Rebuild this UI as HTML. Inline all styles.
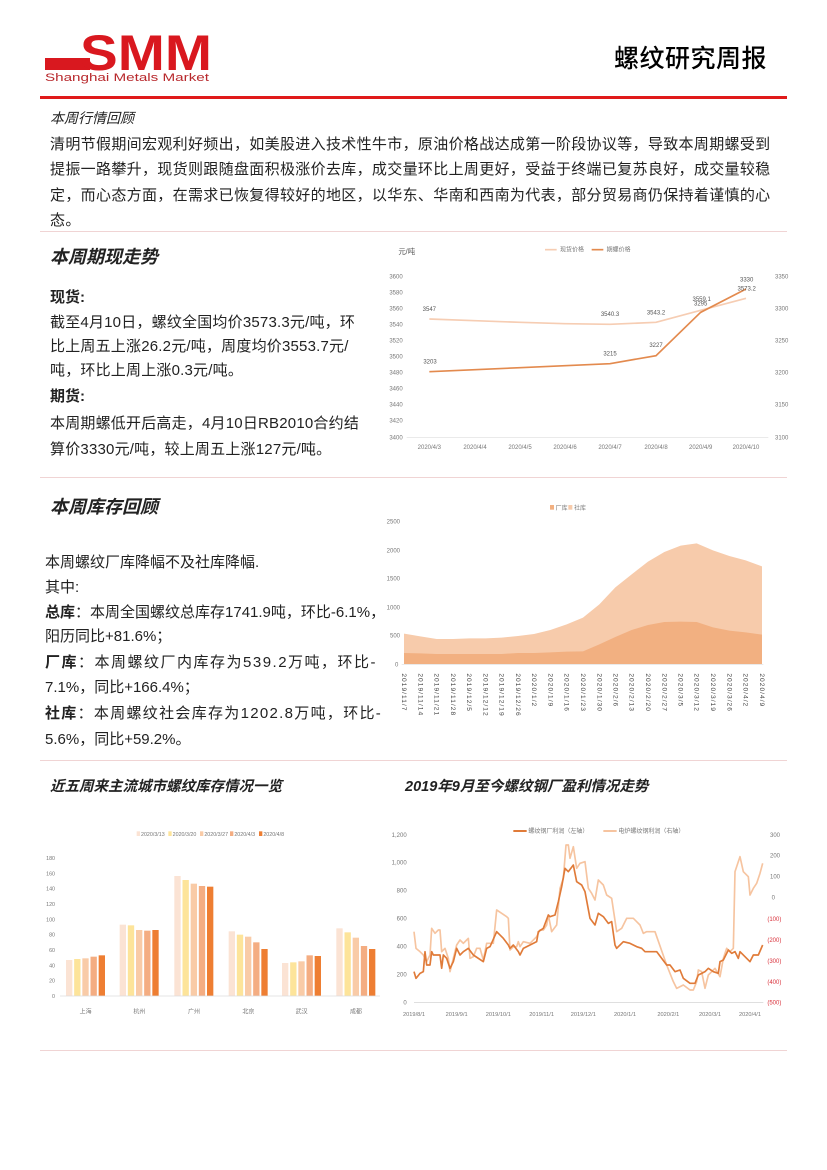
<!DOCTYPE html>
<html><head><meta charset="utf-8">
<style>
body{margin:0;background:#fff;}
#pg{position:relative;width:827px;height:1170px;overflow:hidden;background:#fff;font-family:"Liberation Sans","Noto Sans CJK SC",sans-serif;color:#222;}
.t{position:absolute;white-space:nowrap;font-size:15px;line-height:20px;}
.p{letter-spacing:0.33px;}
.h{font-style:italic;font-weight:bold;font-size:18px;}
.sep{position:absolute;left:40px;width:747px;height:1px;background:#f0d4d4;}
svg{position:absolute;}
svg text{font-family:"Liberation Sans","Noto Sans CJK SC",sans-serif;}
</style></head><body><div id="pg">

<svg style="left:40px;top:25px" width="180" height="65" viewBox="0 0 180 65">
<rect x="5" y="33" width="45" height="12" fill="#d9181f"/>
<text x="40" y="45" font-size="50" font-weight="bold" fill="#d9181f" textLength="132" lengthAdjust="spacingAndGlyphs">SMM</text>
<text x="5" y="56" font-size="11" fill="#b8282c" textLength="164" lengthAdjust="spacingAndGlyphs">Shanghai Metals Market</text>
</svg>
<div class="t" style="left:614px;top:42px;font-size:25px;line-height:34px;color:#000;letter-spacing:0.5px;font-family:'Liberation Sans','Noto Sans CJK SC',sans-serif;font-weight:500;">螺纹研究周报</div>
<div style="position:absolute;left:40px;top:96px;width:747px;height:3px;background:#e01a1a;"></div>

<div class="t" style="left:50px;top:108px;font-size:14px;font-style:italic;">本周行情回顾</div>
<div class="t p" style="left:50px;top:135px;">清明节假期间宏观利好频出，如美股进入技术性牛市，原油价格战达成第一阶段协议等，导致本周期螺受到</div>
<div class="t p" style="left:50px;top:160px;">提振一路攀升，现货则跟随盘面积极涨价去库，成交量环比上周更好，受益于终端已复苏良好，成交量较稳</div>
<div class="t p" style="left:50px;top:186px;">定，而心态方面，在需求已恢复得较好的地区，以华东、华南和西南为代表，部分贸易商仍保持着谨慎的心</div>
<div class="t p" style="left:50px;top:211px;">态。</div>
<div class="sep" style="top:231px"></div>

<div class="t h" style="left:50px;top:247px;">本周期现走势</div>
<div class="t" style="left:50px;top:288px;font-weight:bold;">现货:</div>
<div class="t p" style="left:50px;top:313px;letter-spacing:0.2px;">截至4月10日，螺纹全国均价3573.3元/吨，环</div>
<div class="t p" style="left:50px;top:337px;letter-spacing:0.2px;">比上周五上涨26.2元/吨，周度均价3553.7元/</div>
<div class="t p" style="left:50px;top:361px;letter-spacing:0.2px;">吨，环比上周上涨0.3元/吨。</div>
<div class="t" style="left:50px;top:387px;font-weight:bold;">期货:</div>
<div class="t p" style="left:50px;top:414px;letter-spacing:0.2px;">本周期螺低开后高走，4月10日RB2010合约结</div>
<div class="t p" style="left:50px;top:440px;letter-spacing:0.2px;">算价3330元/吨，较上周五上涨127元/吨。</div>

<!-- chart1 -->
<svg style="left:380px;top:235px" width="420" height="230" viewBox="0 0 1260 690">
<g font-size="18" fill="#777">
<text x="55" y="57" font-size="22" fill="#555">元/吨</text>
<line x1="495" y1="44" x2="530" y2="44" stroke="#f6cdb3" stroke-width="5"/><text x="540" y="50">现货价格</text>
<line x1="635" y1="44" x2="670" y2="44" stroke="#e38a4e" stroke-width="5"/><text x="680" y="50">期螺价格</text>
<g text-anchor="start">
<text x="28" y="131">3600</text><text x="28" y="179">3580</text><text x="28" y="227">3560</text><text x="28" y="275">3540</text><text x="28" y="323">3520</text><text x="28" y="371">3500</text><text x="28" y="419">3480</text><text x="28" y="467">3460</text><text x="28" y="515">3440</text><text x="28" y="563">3420</text><text x="28" y="613">3400</text>
<text x="1185" y="131">3350</text><text x="1185" y="227">3300</text><text x="1185" y="323">3250</text><text x="1185" y="419">3200</text><text x="1185" y="515">3150</text><text x="1185" y="613">3100</text>
</g>
<line x1="80" y1="607" x2="1165" y2="607" stroke="#ddd" stroke-width="2"/>
<g text-anchor="middle">
<text x="148" y="642">2020/4/3</text><text x="285" y="642">2020/4/4</text><text x="420" y="642">2020/4/5</text><text x="555" y="642">2020/4/6</text><text x="690" y="642">2020/4/7</text><text x="828" y="642">2020/4/8</text><text x="962" y="642">2020/4/9</text><text x="1098" y="642">2020/4/10</text>
</g>
<polyline fill="none" stroke="#f6cdb3" stroke-width="5" points="148,252 285,257 420,262 555,266 690,268 828,262 962,226 1098,190"/>
<polyline fill="none" stroke="#e38a4e" stroke-width="5" points="148,410 285,404 420,398 555,392 690,386 828,362 962,232 1098,162"/>
<g text-anchor="middle" fill="#555">
<text x="148" y="228">3547</text><text x="690" y="243">3540.3</text><text x="828" y="238">3543.2</text><text x="965" y="198">3559.1</text><text x="962" y="212">3295</text><text x="1100" y="166">3573.2</text><text x="1100" y="139">3330</text>
<text x="150" y="386">3203</text><text x="690" y="361">3215</text><text x="828" y="336">3227</text>
</g></g></svg>

<div class="sep" style="top:477px"></div>
<div class="t h" style="left:50px;top:497px;">本周库存回顾</div>
<div class="t" style="left:45px;top:553px;">本周螺纹厂库降幅不及社库降幅.</div>
<div class="t" style="left:45px;top:578px;">其中:</div>
<div class="t" style="left:45px;top:603px;"><b>总库</b>：本周全国螺纹总库存1741.9吨，环比-6.1%，</div>
<div class="t" style="left:45px;top:627px;">阳历同比+81.6%；</div>
<div class="t" style="left:45px;top:653px;letter-spacing:1.5px;"><b>厂库</b>：本周螺纹厂内库存为539.2万吨，环比-</div>
<div class="t" style="left:45px;top:678px;">7.1%，同比+166.4%；</div>
<div class="t" style="left:45px;top:704px;letter-spacing:1.3px;"><b>社库</b>：本周螺纹社会库存为1202.8万吨，环比-</div>
<div class="t" style="left:45px;top:730px;">5.6%，同比+59.2%。</div>

<!-- chart2 -->
<svg style="left:380px;top:495px" width="420" height="230" viewBox="0 0 1260 690">
<g font-size="18" fill="#777">
<rect x="510" y="30" width="12" height="14" fill="#f2b081"/><text x="527" y="45">厂库</text>
<rect x="565" y="30" width="12" height="14" fill="#f7cbab"/><text x="582" y="45">社库</text>
<text x="20" y="86">2500</text><text x="20" y="172">2000</text><text x="20" y="257">1500</text><text x="20" y="343">1000</text><text x="30" y="428">500</text><text x="45" y="514">0</text>
<polygon fill="#f7cbab" points="72,508 72,416 121,424 170,432 219,432 267,430 316,430 365,428 414,423 462,417 511,405 560,388 609,368 658,328 706,277 755,238 804,200 853,171 902,152 950,145 999,166 1048,183 1097,196 1146,214 1146,508"/>
<polygon fill="#f2b081" points="72,508 72,474 121,475 170,477 219,477 267,477 316,477 365,477 414,474 462,474 511,472 560,470 609,469 658,448 706,426 755,405 804,390 853,381 902,380 950,381 999,397 1048,407 1097,412 1146,419 1146,508"/>
<line x1="65" y1="508" x2="1150" y2="508" stroke="#ddd" stroke-width="2"/>
<g fill="#444" font-size="20" letter-spacing="3">
<text transform="translate(66,535) rotate(90)">2019/11/7</text><text transform="translate(115,535) rotate(90)">2019/11/14</text><text transform="translate(164,535) rotate(90)">2019/11/21</text><text transform="translate(213,535) rotate(90)">2019/11/28</text><text transform="translate(261,535) rotate(90)">2019/12/5</text><text transform="translate(310,535) rotate(90)">2019/12/12</text><text transform="translate(359,535) rotate(90)">2019/12/19</text><text transform="translate(408,535) rotate(90)">2019/12/26</text><text transform="translate(456,535) rotate(90)">2020/1/2</text><text transform="translate(505,535) rotate(90)">2020/1/9</text><text transform="translate(554,535) rotate(90)">2020/1/16</text><text transform="translate(603,535) rotate(90)">2020/1/23</text><text transform="translate(652,535) rotate(90)">2020/1/30</text><text transform="translate(700,535) rotate(90)">2020/2/6</text><text transform="translate(749,535) rotate(90)">2020/2/13</text><text transform="translate(798,535) rotate(90)">2020/2/20</text><text transform="translate(847,535) rotate(90)">2020/2/27</text><text transform="translate(896,535) rotate(90)">2020/3/5</text><text transform="translate(944,535) rotate(90)">2020/3/12</text><text transform="translate(993,535) rotate(90)">2020/3/19</text><text transform="translate(1042,535) rotate(90)">2020/3/26</text><text transform="translate(1091,535) rotate(90)">2020/4/2</text><text transform="translate(1140,535) rotate(90)">2020/4/9</text>
</g></g></svg>

<div class="sep" style="top:760px"></div>
<div class="t" style="left:50px;top:777px;font-style:italic;font-size:14.5px;font-weight:bold;">近五周来主流城市螺纹库存情况一览</div>
<div class="t" style="left:405px;top:777px;font-style:italic;font-size:14.5px;font-weight:bold;">2019年9月至今螺纹钢厂盈利情况走势</div>

<!-- chart3 -->
<svg style="left:40px;top:810px" width="340" height="220" viewBox="0 0 1020 660">
<g font-size="16" fill="#777">
<rect x="290" y="64" width="10" height="14" fill="#fbe3d4"/><text x="303" y="78">2020/3/13</text>
<rect x="385" y="64" width="10" height="14" fill="#fde49a"/><text x="398" y="78">2020/3/20</text>
<rect x="480" y="64" width="10" height="14" fill="#f9cba7"/><text x="493" y="78">2020/3/27</text>
<rect x="570" y="64" width="10" height="14" fill="#f4ad82"/><text x="583" y="78">2020/4/3</text>
<rect x="657" y="64" width="10" height="14" fill="#ee7e32"/><text x="670" y="78">2020/4/8</text>
<g text-anchor="end">
<text x="45" y="150">180</text><text x="45" y="196">160</text><text x="45" y="242">140</text><text x="45" y="288">120</text><text x="45" y="334">100</text><text x="45" y="380">80</text><text x="45" y="426">60</text><text x="45" y="472">40</text><text x="45" y="518">20</text><text x="45" y="564">0</text>
</g>
<rect x="78" y="450" width="19" height="108" fill="#fbe3d4"/><rect x="102.5" y="447" width="19" height="111" fill="#fde49a"/><rect x="127" y="445" width="19" height="113" fill="#f9cba7"/><rect x="151.5" y="440" width="19" height="118" fill="#f4ad82"/><rect x="176" y="436" width="19" height="122" fill="#ee7e32"/>
<rect x="239" y="344" width="19" height="214" fill="#fbe3d4"/><rect x="263.5" y="346" width="19" height="212" fill="#fde49a"/><rect x="288" y="360" width="19" height="198" fill="#f9cba7"/><rect x="312.5" y="362" width="19" height="196" fill="#f4ad82"/><rect x="337" y="360" width="19" height="198" fill="#ee7e32"/>
<rect x="403" y="198" width="19" height="360" fill="#fbe3d4"/><rect x="427.5" y="210" width="19" height="348" fill="#fde49a"/><rect x="452" y="221" width="19" height="337" fill="#f9cba7"/><rect x="476.5" y="228" width="19" height="330" fill="#f4ad82"/><rect x="501" y="230" width="19" height="328" fill="#ee7e32"/>
<rect x="566" y="364" width="19" height="194" fill="#fbe3d4"/><rect x="590.5" y="374" width="19" height="184" fill="#fde49a"/><rect x="615" y="380" width="19" height="178" fill="#f9cba7"/><rect x="639.5" y="397" width="19" height="161" fill="#f4ad82"/><rect x="664" y="417" width="19" height="141" fill="#ee7e32"/>
<rect x="726" y="459" width="19" height="99" fill="#fbe3d4"/><rect x="750.5" y="457" width="19" height="101" fill="#fde49a"/><rect x="775" y="454" width="19" height="104" fill="#f9cba7"/><rect x="799.5" y="436" width="19" height="122" fill="#f4ad82"/><rect x="824" y="438" width="19" height="120" fill="#ee7e32"/>
<rect x="889" y="355" width="19" height="203" fill="#fbe3d4"/><rect x="913.5" y="367" width="19" height="191" fill="#fde49a"/><rect x="938" y="383" width="19" height="175" fill="#f9cba7"/><rect x="962.5" y="408" width="19" height="150" fill="#f4ad82"/><rect x="987" y="417" width="19" height="141" fill="#ee7e32"/>
<line x1="60" y1="558" x2="1020" y2="558" stroke="#ddd" stroke-width="2"/>
<g text-anchor="middle" font-size="18">
<text x="137" y="610">上海</text><text x="298" y="610">杭州</text><text x="462" y="610">广州</text><text x="625" y="610">北京</text><text x="785" y="610">武汉</text><text x="948" y="610">成都</text>
</g></g></svg>

<!-- chart4 -->
<svg style="left:390px;top:815px" width="400" height="210" viewBox="0 0 1200 630">
<g font-size="18" fill="#777">
<line x1="370" y1="48" x2="410" y2="48" stroke="#e07b39" stroke-width="6"/><text x="415" y="54">螺纹钢厂利润（左轴）</text>
<line x1="640" y1="48" x2="680" y2="48" stroke="#f6c4a0" stroke-width="6"/><text x="685" y="54">电炉螺纹钢利润（右轴）</text>
<g text-anchor="end">
<text x="50" y="66">1,200</text><text x="50" y="149">1,000</text><text x="50" y="233">800</text><text x="50" y="317">600</text><text x="50" y="401">400</text><text x="50" y="485">200</text><text x="50" y="569">0</text>
</g>
<g text-anchor="start">
<text x="1140" y="66">300</text><text x="1140" y="128">200</text><text x="1140" y="191">100</text><text x="1145" y="254">0</text>
<g fill="#d9303a"><text x="1132" y="318">(100)</text><text x="1132" y="381">(200)</text><text x="1132" y="444">(300)</text><text x="1132" y="507">(400)</text><text x="1132" y="569">(500)</text></g>
</g>
<line x1="72" y1="563" x2="1120" y2="563" stroke="#ccc" stroke-width="2"/>
<g text-anchor="middle" font-size="17">
<text x="72" y="603">2019/8/1</text><text x="200" y="603">2019/9/1</text><text x="325" y="603">2019/10/1</text><text x="455" y="603">2019/11/1</text><text x="580" y="603">2019/12/1</text><text x="705" y="603">2020/1/1</text><text x="835" y="603">2020/2/1</text><text x="960" y="603">2020/3/1</text><text x="1080" y="603">2020/4/1</text>
</g>
<polyline fill="none" stroke="#f6c4a0" stroke-width="5" stroke-linejoin="round" points="72,350 78,400 90,410 100,420 110,440 120,420 125,340 135,355 145,345 150,345 155,410 160,405 165,400 175,430 180,470 190,430 200,390 210,375 220,385 230,375 235,370 240,430 250,425 260,400 270,400 280,435 290,385 300,385 310,385 320,285 335,295 350,305 355,310 360,405 370,395 380,395 385,380 390,395 400,380 420,385 440,365 450,345 460,345 470,330 475,300 485,350 500,330 510,220 520,190 528,90 535,90 540,130 550,95 560,160 570,145 585,140 595,220 605,235 615,255 625,195 640,210 650,240 665,250 680,350 695,340 710,310 730,310 740,320 750,330 760,355 770,350 795,350 830,450 850,500 860,520 880,510 900,525 910,525 920,500 925,465 935,470 945,520 955,480 965,470 975,460 990,485 1000,430 1010,400 1020,410 1030,400 1035,170 1050,125 1060,170 1075,185 1080,240 1090,220 1100,205 1110,175 1118,145"/>
<polyline fill="none" stroke="#e07b39" stroke-width="5" stroke-linejoin="round" points="72,470 78,490 90,475 100,470 105,410 110,450 120,450 125,410 130,420 150,420 155,460 160,420 170,430 180,460 190,440 200,400 210,420 220,410 235,400 250,420 280,440 290,400 300,395 320,350 340,370 355,390 360,400 370,390 385,410 390,420 400,400 420,390 440,380 445,350 460,340 475,300 480,305 495,300 505,260 515,215 525,160 535,170 550,150 560,200 575,210 585,230 600,310 615,330 625,295 640,305 655,325 665,320 675,390 680,400 700,380 720,385 740,395 755,400 765,410 800,410 830,450 840,450 855,470 870,465 880,490 900,505 915,505 925,480 935,475 945,470 955,460 970,470 985,475 990,440 1000,435 1010,415 1015,405 1025,415 1035,410 1045,430 1050,410 1065,425 1080,440 1090,420 1105,420 1118,390"/>
</g></svg>
<div class="sep" style="top:1050px"></div>

</div></body></html>
